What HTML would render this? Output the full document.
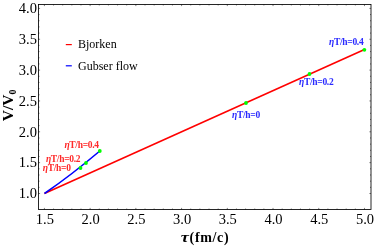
<!DOCTYPE html>
<html><head><meta charset="utf-8"><style>
html,body{margin:0;padding:0;background:#fff;}
svg{display:block;will-change:transform;opacity:0.999;font-family:"Liberation Serif",serif;}
</style></head><body>
<svg width="374" height="246" viewBox="0 0 374 246">
<rect width="374" height="246" fill="#fff"/>
<rect x="38.5" y="4.5" width="332.5" height="205.0" fill="none" stroke="#000" stroke-width="0.85"/>
<path d="M44.40 209.5v-1.6 M44.40 4.5v1.6 M53.55 209.5v-1.0 M53.55 4.5v1.0 M62.69 209.5v-1.0 M62.69 4.5v1.0 M71.84 209.5v-1.0 M71.84 4.5v1.0 M80.98 209.5v-1.0 M80.98 4.5v1.0 M90.12 209.5v-1.6 M90.12 4.5v1.6 M99.27 209.5v-1.0 M99.27 4.5v1.0 M108.42 209.5v-1.0 M108.42 4.5v1.0 M117.56 209.5v-1.0 M117.56 4.5v1.0 M126.70 209.5v-1.0 M126.70 4.5v1.0 M135.85 209.5v-1.6 M135.85 4.5v1.6 M145.00 209.5v-1.0 M145.00 4.5v1.0 M154.14 209.5v-1.0 M154.14 4.5v1.0 M163.28 209.5v-1.0 M163.28 4.5v1.0 M172.43 209.5v-1.0 M172.43 4.5v1.0 M181.58 209.5v-1.6 M181.58 4.5v1.6 M190.72 209.5v-1.0 M190.72 4.5v1.0 M199.87 209.5v-1.0 M199.87 4.5v1.0 M209.01 209.5v-1.0 M209.01 4.5v1.0 M218.16 209.5v-1.0 M218.16 4.5v1.0 M227.30 209.5v-1.6 M227.30 4.5v1.6 M236.45 209.5v-1.0 M236.45 4.5v1.0 M245.59 209.5v-1.0 M245.59 4.5v1.0 M254.73 209.5v-1.0 M254.73 4.5v1.0 M263.88 209.5v-1.0 M263.88 4.5v1.0 M273.02 209.5v-1.6 M273.02 4.5v1.6 M282.17 209.5v-1.0 M282.17 4.5v1.0 M291.31 209.5v-1.0 M291.31 4.5v1.0 M300.46 209.5v-1.0 M300.46 4.5v1.0 M309.61 209.5v-1.0 M309.61 4.5v1.0 M318.75 209.5v-1.6 M318.75 4.5v1.6 M327.89 209.5v-1.0 M327.89 4.5v1.0 M337.04 209.5v-1.0 M337.04 4.5v1.0 M346.18 209.5v-1.0 M346.18 4.5v1.0 M355.33 209.5v-1.0 M355.33 4.5v1.0 M364.47 209.5v-1.6 M364.47 4.5v1.6 M38.5 193.50h1.6 M371.0 193.50h-1.6 M38.5 187.33h1.0 M371.0 187.33h-1.0 M38.5 181.16h1.0 M371.0 181.16h-1.0 M38.5 174.99h1.0 M371.0 174.99h-1.0 M38.5 168.82h1.0 M371.0 168.82h-1.0 M38.5 162.65h1.6 M371.0 162.65h-1.6 M38.5 156.48h1.0 M371.0 156.48h-1.0 M38.5 150.31h1.0 M371.0 150.31h-1.0 M38.5 144.14h1.0 M371.0 144.14h-1.0 M38.5 137.97h1.0 M371.0 137.97h-1.0 M38.5 131.80h1.6 M371.0 131.80h-1.6 M38.5 125.63h1.0 M371.0 125.63h-1.0 M38.5 119.46h1.0 M371.0 119.46h-1.0 M38.5 113.29h1.0 M371.0 113.29h-1.0 M38.5 107.12h1.0 M371.0 107.12h-1.0 M38.5 100.95h1.6 M371.0 100.95h-1.6 M38.5 94.78h1.0 M371.0 94.78h-1.0 M38.5 88.61h1.0 M371.0 88.61h-1.0 M38.5 82.44h1.0 M371.0 82.44h-1.0 M38.5 76.27h1.0 M371.0 76.27h-1.0 M38.5 70.10h1.6 M371.0 70.10h-1.6 M38.5 63.93h1.0 M371.0 63.93h-1.0 M38.5 57.76h1.0 M371.0 57.76h-1.0 M38.5 51.59h1.0 M371.0 51.59h-1.0 M38.5 45.42h1.0 M371.0 45.42h-1.0 M38.5 39.25h1.6 M371.0 39.25h-1.6 M38.5 33.08h1.0 M371.0 33.08h-1.0 M38.5 26.91h1.0 M371.0 26.91h-1.0 M38.5 20.74h1.0 M371.0 20.74h-1.0 M38.5 14.57h1.0 M371.0 14.57h-1.0 M38.5 8.40h1.6 M371.0 8.40h-1.6" stroke="#000" stroke-width="0.5" fill="none"/>
<text x="44.90" y="224.1" font-size="14.5" text-anchor="middle">1.5</text>
<text x="90.62" y="224.1" font-size="14.5" text-anchor="middle">2.0</text>
<text x="136.35" y="224.1" font-size="14.5" text-anchor="middle">2.5</text>
<text x="182.08" y="224.1" font-size="14.5" text-anchor="middle">3.0</text>
<text x="227.80" y="224.1" font-size="14.5" text-anchor="middle">3.5</text>
<text x="273.52" y="224.1" font-size="14.5" text-anchor="middle">4.0</text>
<text x="319.25" y="224.1" font-size="14.5" text-anchor="middle">4.5</text>
<text x="364.97" y="224.1" font-size="14.5" text-anchor="middle">5.0</text>
<text x="36.9" y="198.30" font-size="14.5" text-anchor="end">1.0</text>
<text x="36.9" y="167.45" font-size="14.5" text-anchor="end">1.5</text>
<text x="36.9" y="136.60" font-size="14.5" text-anchor="end">2.0</text>
<text x="36.9" y="105.75" font-size="14.5" text-anchor="end">2.5</text>
<text x="36.9" y="74.90" font-size="14.5" text-anchor="end">3.0</text>
<text x="36.9" y="44.05" font-size="14.5" text-anchor="end">3.5</text>
<text x="36.9" y="13.20" font-size="14.5" text-anchor="end">4.0</text>
<line x1="44.4" y1="193.5" x2="364.47" y2="49.53" stroke="#f00" stroke-width="1.6"/>
<path d="M44.5 193.5 Q 72 174.5 99.8 151" stroke="#00f" stroke-width="1.6" fill="none"/>
<circle cx="80.5" cy="168" r="1.9" fill="#0f0"/>
<circle cx="86" cy="163" r="1.9" fill="#0f0"/>
<circle cx="99.8" cy="151" r="1.9" fill="#0f0"/>
<circle cx="246" cy="103" r="1.9" fill="#0f0"/>
<circle cx="309.5" cy="74" r="1.9" fill="#0f0"/>
<circle cx="364.4" cy="49.8" r="1.9" fill="#0f0"/>
<text x="232" y="118" font-size="9.5" font-weight="bold" letter-spacing="-0.3" fill="#2a2aff"><tspan font-style="italic">η</tspan>T/h=0</text>
<text x="299" y="85" font-size="9.5" font-weight="bold" letter-spacing="-0.3" fill="#2a2aff"><tspan font-style="italic">η</tspan>T/h=0.2</text>
<text x="329" y="44.5" font-size="9.5" font-weight="bold" letter-spacing="-0.3" fill="#2a2aff"><tspan font-style="italic">η</tspan>T/h=0.4</text>
<text x="64.4" y="148" font-size="9.5" font-weight="bold" letter-spacing="-0.3" fill="#ff2a2a"><tspan font-style="italic">η</tspan>T/h=0.4</text>
<text x="45.9" y="162" font-size="9.5" font-weight="bold" letter-spacing="-0.3" fill="#ff2a2a"><tspan font-style="italic">η</tspan>T/h=0.2</text>
<text x="42.8" y="171" font-size="9.5" font-weight="bold" letter-spacing="-0.3" fill="#ff2a2a"><tspan font-style="italic">η</tspan>T/h=0</text>
<line x1="65.8" y1="44.6" x2="71.8" y2="44.6" stroke="#f00" stroke-width="1.2"/>
<line x1="65.8" y1="65.8" x2="71.8" y2="65.8" stroke="#00f" stroke-width="1.2"/>
<text x="78" y="48.2" font-size="12">Bjorken</text>
<text x="78" y="70" font-size="12">Gubser flow</text>
<text transform="translate(180.8,242.3) scale(1.3,1)" font-size="14" font-weight="bold" font-style="italic">τ</text>
<text x="189.6" y="242.3" font-size="14" font-weight="bold" letter-spacing="0.65">(fm/c)</text>
<text transform="translate(12.8,121.2) rotate(-90)" font-size="15.5" font-weight="bold">V/V<tspan font-size="10" dy="2.8">0</tspan></text>
</svg>
</body></html>
